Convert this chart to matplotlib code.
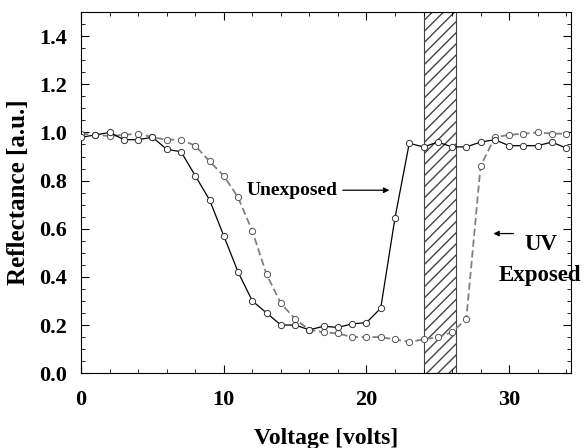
import matplotlib.pyplot as plt
from matplotlib.ticker import MultipleLocator

plt.rcParams['font.family'] = 'Liberation Serif'
plt.rcParams['font.weight'] = 'bold'

volts = list(range(0, 35))
unexposed = [0.98, 0.99, 1.00, 0.97, 0.97, 0.98, 0.93, 0.92, 0.82, 0.72,
             0.57, 0.42, 0.30, 0.25, 0.20, 0.20, 0.18, 0.195, 0.19, 0.205,
             0.21, 0.27, 0.645, 0.955, 0.94, 0.96, 0.94, 0.94, 0.96, 0.97,
             0.945, 0.945, 0.945, 0.96, 0.935]
uv_exposed = [0.995, 0.99, 0.985, 0.99, 0.995, 0.98, 0.97, 0.97, 0.945, 0.88,
              0.82, 0.73, 0.59, 0.41, 0.29, 0.225, 0.18, 0.17, 0.165, 0.15,
              0.15, 0.15, 0.14, 0.13, 0.14, 0.15, 0.17, 0.225, 0.86, 0.98,
              0.99, 0.995, 1.00, 0.995, 0.995]
band = (24.0, 26.3)

fig = plt.figure(figsize=(5.84, 4.48), dpi=100)
ax = fig.add_axes([0.139, 0.167, 0.839, 0.806])

ax.axvspan(band[0], band[1], facecolor='white', edgecolor='#444444',
           hatch='///', linewidth=0.8, zorder=1)
ax.plot(volts, uv_exposed, linestyle=(0, (4, 2)), color='#808080', linewidth=1.3,
        marker='o', markersize=4.5, markerfacecolor='white',
        markeredgecolor='#555555', markeredgewidth=0.7, zorder=2)
ax.plot(volts, unexposed, linestyle='-', color='black', linewidth=0.9,
        marker='o', markersize=4.5, markerfacecolor='white',
        markeredgecolor='#333333', markeredgewidth=0.7, zorder=3)

ax.set_xlim(0, 34.35)
ax.set_ylim(0, 1.5)
ax.xaxis.set_major_locator(MultipleLocator(10))
ax.xaxis.set_minor_locator(MultipleLocator(2))
ax.yaxis.set_major_locator(MultipleLocator(0.2))
ax.yaxis.set_minor_locator(MultipleLocator(0.05))
ax.tick_params(which='both', direction='in', top=True, right=True)
ax.tick_params(which='major', length=6, labelsize=16)
ax.tick_params(axis='y', which='major', pad=10)
ax.tick_params(axis='x', which='major', pad=12)
ax.tick_params(which='minor', length=3)
ax.set_yticks([0.0, 0.2, 0.4, 0.6, 0.8, 1.0, 1.2, 1.4])
ax.set_yticklabels(['0.0', '0.2', '0.4', '0.6', '0.8', '1.0', '1.2', '1.4'])

ax.set_xlabel('Voltage [volts]', fontsize=17, fontweight='bold', labelpad=13)
ax.set_ylabel('Reflectance [a.u.]', fontsize=18, fontweight='bold', labelpad=7)

ax.annotate('Unexposed', xy=(21.8, 0.76), xytext=(17.95, 0.76),
            fontsize=14, fontweight='bold', ha='right', va='center',
            arrowprops=dict(arrowstyle='-|>', color='black', lw=0.9,
                            mutation_scale=8))
ax.annotate('', xy=(28.7, 0.58), xytext=(30.5, 0.58),
            arrowprops=dict(arrowstyle='-|>', color='black', lw=0.9,
                            mutation_scale=8))
ax.text(32.2, 0.535, 'UV', fontsize=16.5, fontweight='bold', ha='center', va='center')
ax.text(29.3, 0.405, 'Exposed', fontsize=16.5, fontweight='bold', ha='left',
        va='center', clip_on=False)

fig.savefig('out.png', dpi=100)
